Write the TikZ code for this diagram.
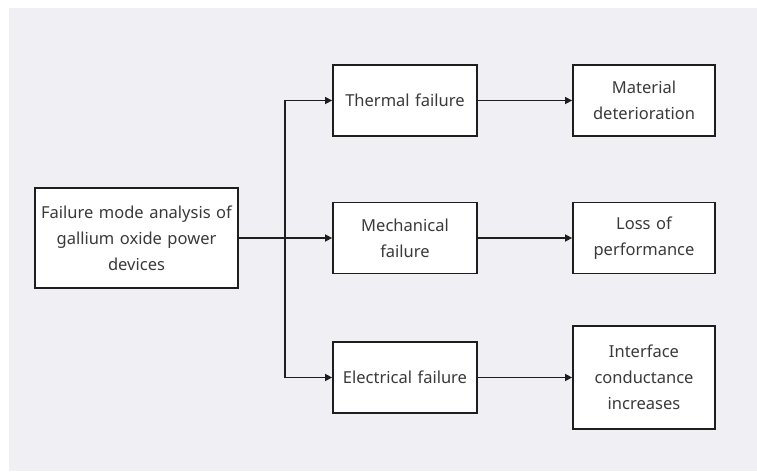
\documentclass[tikz,border=0pt]{standalone}
\usepackage{fontspec}
\setmainfont{Noto Sans}
\usetikzlibrary{arrows.meta}
\definecolor{bgc}{HTML}{F0F0F4}
\definecolor{txt}{HTML}{3A3A3A}
\definecolor{ln}{HTML}{1E1E1E}
\begin{document}
\begin{tikzpicture}[x=1pt,y=-1pt,
  box/.style={draw=ln, line width=1.8pt, fill=white, align=center, inner sep=0pt,
    font=\fontsize{16.5}{26}\selectfont, text=txt},
  conn/.style={line width=1.5pt, draw=ln, -{Triangle[length=7pt,width=7pt]}}]
\fill[white] (0,0) rectangle (757,471);
\fill[bgc] (9,8) rectangle (757,471);
\useasboundingbox (0,0) rectangle (757,471);
\node[box, text width=203pt, minimum height=100pt] (main) at (136.5,238) {Failure mode analysis of\\gallium oxide power\\devices};
\node[box, text width=144pt, minimum height=71pt] (thermal) at (405,100.5) {Thermal failure};
\node[box, text width=144pt, minimum height=71pt] (mech) at (405,238) {Mechanical\\failure};
\node[box, text width=144pt, minimum height=71pt] (elec) at (405,377.5) {Electrical failure};
\node[box, text width=142pt, minimum height=71pt] (mat) at (644,100.5) {Material\\deterioration};
\node[box, text width=142pt, minimum height=71pt] (loss) at (644,238) {Loss of\\performance};
\node[box, text width=142pt, minimum height=103pt] (intf) at (644,377.5) {Interface\\conductance\\increases};
\coordinate (bus) at (285,0);
\draw[conn] (main.east) -- (mech.west);
\draw[conn] (main.east -| bus) |- (thermal.west);
\draw[conn] (main.east -| bus) |- (elec.west);
\draw[conn] (thermal.east) -- (mat.west);
\draw[conn] (mech.east) -- (loss.west);
\draw[conn] (elec.east) -- (intf.west);
\end{tikzpicture}
\end{document}
